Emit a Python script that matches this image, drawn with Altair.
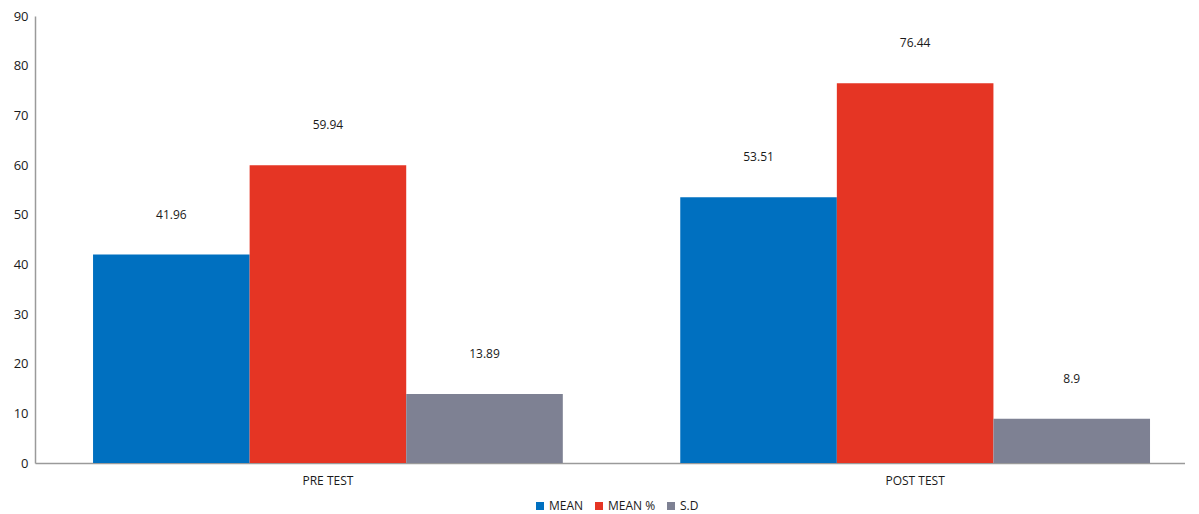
import altair as alt
import pandas as pd

groups = ["PRE TEST", "POST TEST"]
series = ["MEAN", "MEAN %", "S.D"]
pre_values = [41.96, 59.94, 13.89]
post_values = [53.51, 76.44, 8.9]
labels_pre = ["41.96", "59.94", "13.89"]
labels_post = ["53.51", "76.44", "8.9"]
colors = ["#0070C0", "#E53524", "#7E8193"]

rows = []
for g, vals, labs in [(groups[0], pre_values, labels_pre), (groups[1], post_values, labels_post)]:
    for s, v, l in zip(series, vals, labs):
        rows.append({"group": g, "series": s, "value": v, "label": l})
df = pd.DataFrame(rows)

FONT = "Open Sans"

x = alt.X("group:N", sort=groups, title=None,
          scale=alt.Scale(paddingInner=0.2, paddingOuter=0.0792, align=0.624),
          axis=alt.Axis(labelAngle=0, ticks=False, labelPadding=12, labelFontSize=12,
                        labelFont=FONT, labelColor="#1a1a1a", domainColor="#9a9a9a", grid=False))
y = alt.Y("value:Q", title=None,
          scale=alt.Scale(domain=[0, 90]),
          axis=alt.Axis(values=list(range(0, 91, 10)), ticks=False, grid=False, labelPadding=7,
                        labelFontSize=13, labelFont=FONT, labelColor="#1a1a1a", domainColor="#9a9a9a"))
xo = alt.XOffset("series:N", sort=series, scale=alt.Scale(paddingInner=0, paddingOuter=0))

bars = alt.Chart(df).mark_bar().encode(
    x=x, y=y, xOffset=xo,
    color=alt.Color("series:N", sort=series,
                    scale=alt.Scale(domain=series, range=colors),
                    legend=alt.Legend(title=None, orient="none", legendX=499, legendY=484,
                                      direction="horizontal", padding=0,
                                      symbolType="square", symbolSize=64, symbolStrokeWidth=0,
                                      labelOffset=3, columnPadding=9,
                                      labelFont=FONT, labelFontSize=12, labelColor="#1a1a1a")),
)

text = alt.Chart(df).mark_text(dy=-40, fontSize=12, font=FONT, color="#1a1a1a").encode(
    x=x, y=y, xOffset=xo, text="label:N"
)

chart = alt.layer(bars, text).properties(
    width=1150, height=447,
    padding={"left": 5, "top": 2, "right": 0, "bottom": 0},
).configure_view(stroke=None).configure_axis(domainWidth=1.5)

chart.save("out.html", embed_options={"renderer": "svg", "actions": False})
